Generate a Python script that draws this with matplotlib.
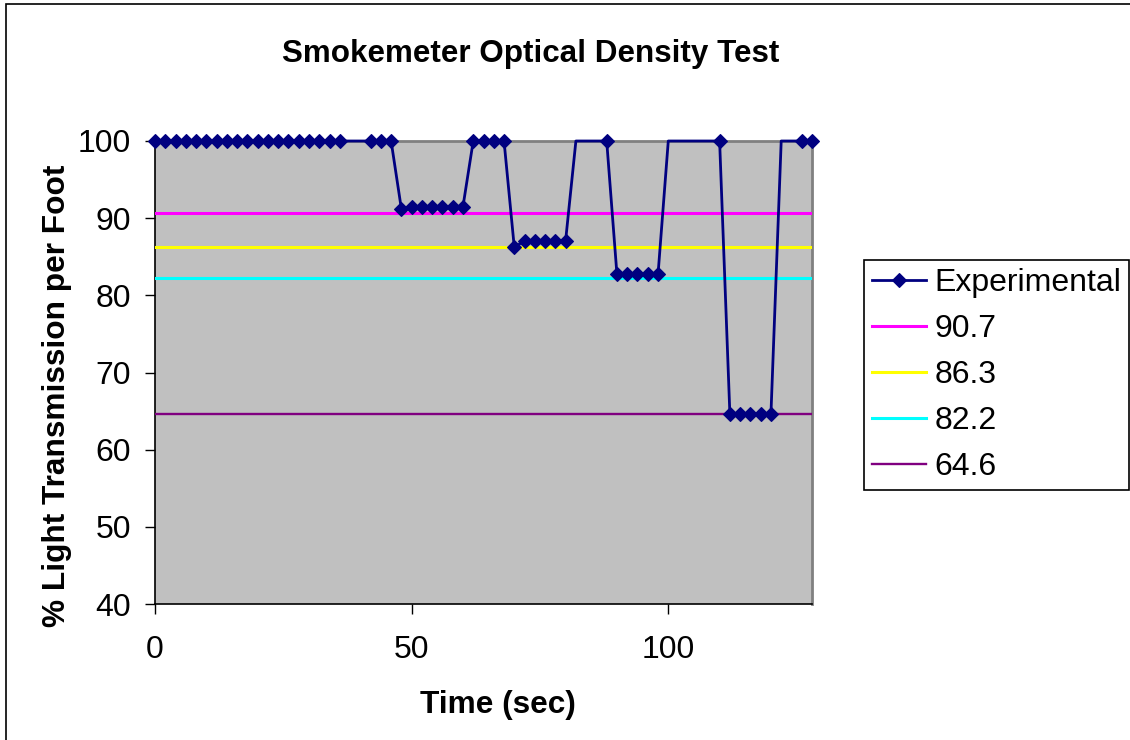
import numpy as np
import matplotlib
matplotlib.use('Agg')
import matplotlib.pyplot as plt
from matplotlib.patches import Rectangle

plt.rcParams['font.family'] = ['Liberation Sans', 'DejaVu Sans']

# readings every 2 s; values above 100 sit outside the axis (no marker drawn)
time_s = np.arange(0, 130, 2)
transmission = np.array(
    [100.0] * 19 + [100.3] * 2 + [100.0] * 3 +
    [91.2, 91.4, 91.4, 91.4, 91.4, 91.4, 91.5] +
    [100.0] * 4 +
    [86.2, 87.1, 87.1, 87.1, 87.1, 87.1] +
    [100.3] * 3 + [100.0] +
    [82.7] * 5 +
    [100.3] * 5 + [100.0] +
    [64.6] * 5 +
    [100.3] * 2 + [100.0] * 2)

ref_levels = [90.7, 86.3, 82.2, 64.6]
ref_labels = ['90.7', '86.3', '82.2', '64.6']
ref_colors = ['#FF00FF', '#FFFF00', '#00FFFF', '#800080']

W, H = 1130, 740
fig = plt.figure(figsize=(W / 100, H / 100), dpi=100)
ax = fig.add_axes([155 / W, 1 - 604 / H, (812 - 155) / W, (604 - 141) / H])
ax.set_facecolor('#C0C0C0')

shown = list(np.where(transmission <= 100)[0])
ax.plot(time_s, np.minimum(transmission, 100), color='#000080', lw=2.0,
        marker='D', ms=7.6, mew=0.8, markevery=shown, clip_on=False,
        zorder=4, label='Experimental')
for lvl, lab, col in zip(ref_levels, ref_labels, ref_colors):
    lw = 1.7 if col == '#800080' else 2.2
    ax.plot([time_s[0], time_s[-1]], [lvl, lvl], color=col, lw=lw, label=lab, zorder=3)

ax.set_xlim(0, 128)
ax.set_ylim(40, 100)
ax.set_xticks([0, 50, 100])
ax.set_yticks(range(40, 101, 10))
ax.tick_params(axis='y', direction='out', length=7.2, width=1, pad=10, labelsize=23)
ax.tick_params(axis='x', direction='out', length=7.2, width=1, pad=15, labelsize=23)

for s in ['top', 'right']:
    ax.spines[s].set_color('#808080')
    ax.spines[s].set_linewidth(2)
for s in ['left', 'bottom']:
    ax.spines[s].set_color('black')
    ax.spines[s].set_linewidth(1.2)

fig.text(531 / W, 1 - 62 / H, 'Smokemeter Optical Density Test', ha='center',
         va='baseline', fontsize=22.6, fontweight='bold')
fig.text(498 / W, 1 - 713 / H, 'Time (sec)', ha='center', va='baseline',
         fontsize=22.8, fontweight='bold')
fig.text(65 / W, 1 - 396 / H, '% Light Transmission per Foot', ha='center',
         va='baseline', rotation=90, rotation_mode='anchor',
         fontsize=22.8, fontweight='bold')

leg = fig.legend(loc='upper left', bbox_to_anchor=(864 / W, 1 - 260 / H),
                 borderaxespad=0, fontsize=23, frameon=True, fancybox=False,
                 edgecolor='black', framealpha=1, handlelength=1.7,
                 handletextpad=0.25, labelspacing=0.5, borderpad=0.25)
leg.get_frame().set_linewidth(1.2)

# chart area border (only top and left edges fall inside the image)
fig.add_artist(Rectangle((6 / W, -0.05), 1.2, 1 - 4 / H + 0.05, transform=fig.transFigure,
                         fill=False, edgecolor='black', lw=1.2))

fig.savefig('out.png', dpi=100)
